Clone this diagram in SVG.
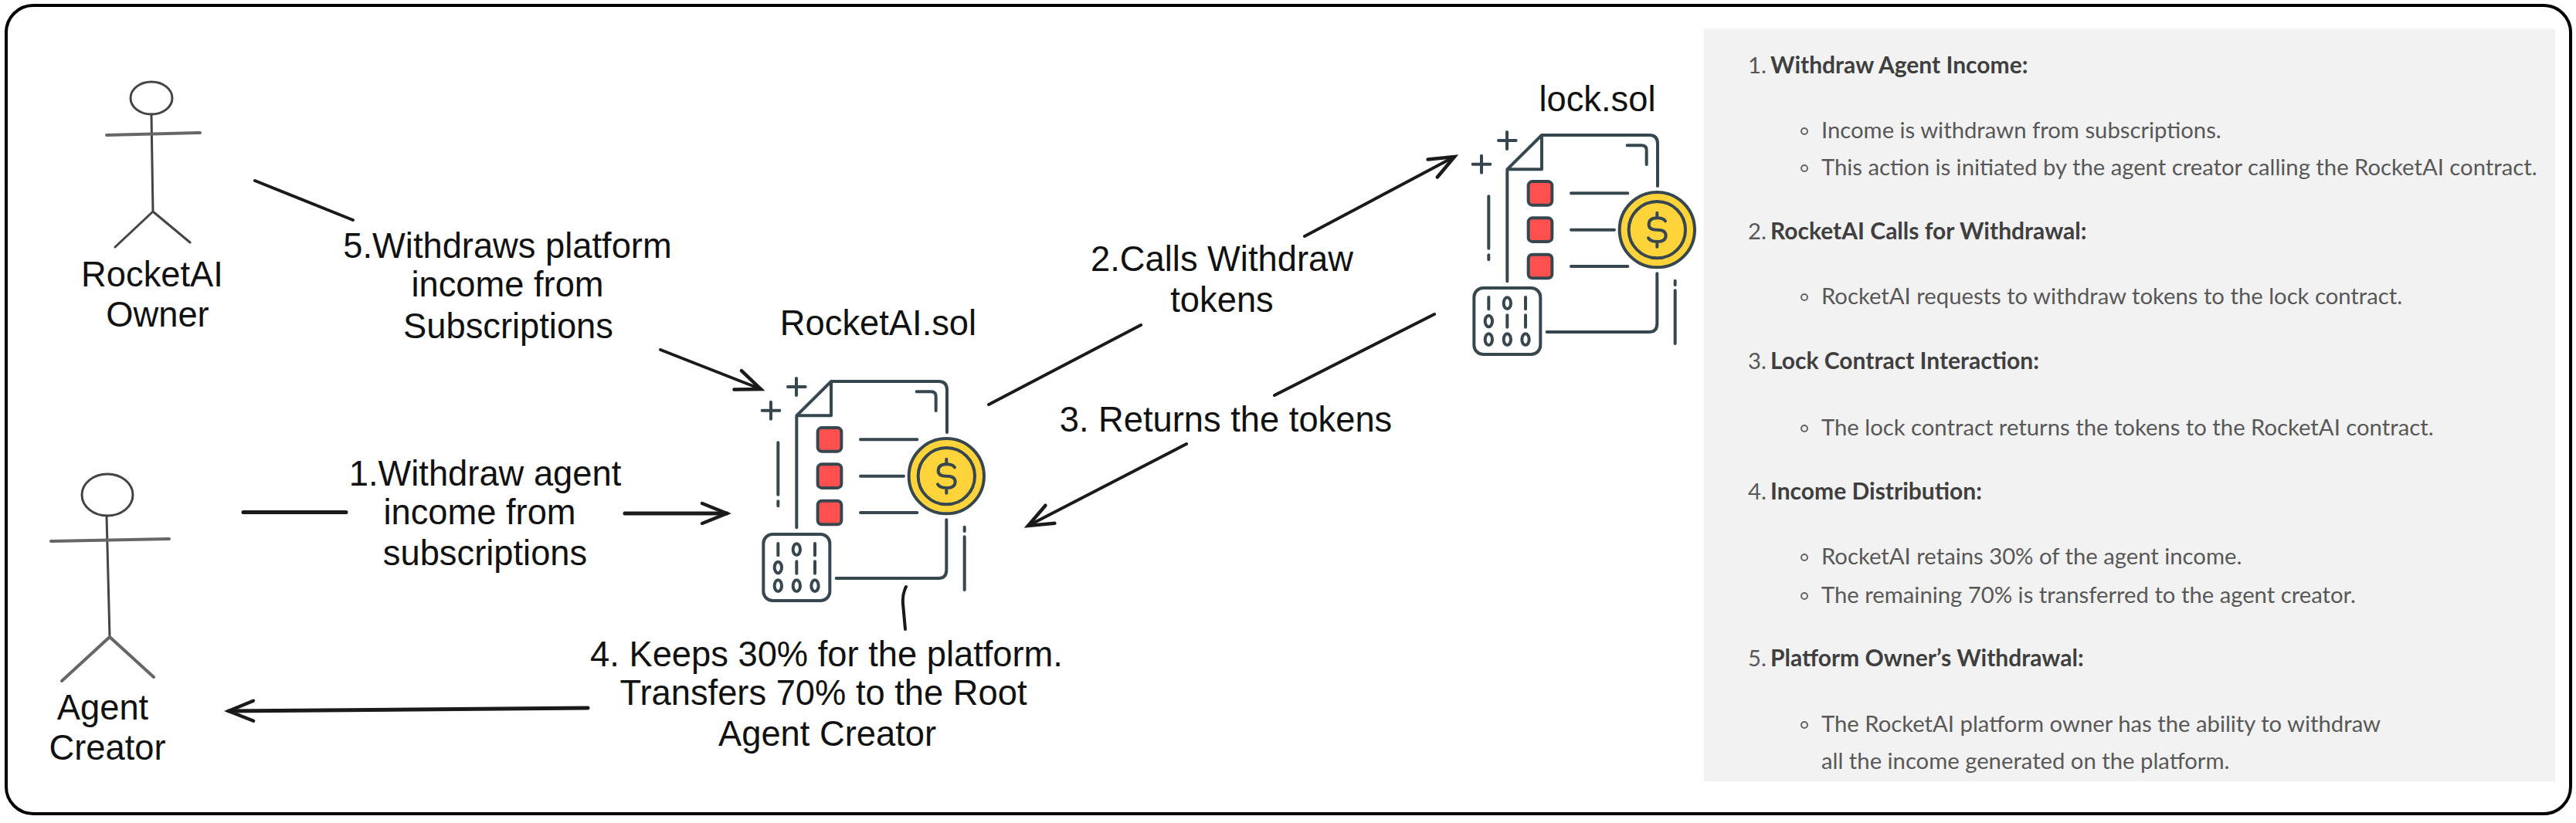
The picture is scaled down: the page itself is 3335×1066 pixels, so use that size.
<svg xmlns="http://www.w3.org/2000/svg" xmlns:xlink="http://www.w3.org/1999/xlink" width="3335" height="1066" viewBox="0 0 3335 1066">
<style>
.lbl{font-family:"Liberation Sans",Arial,sans-serif;font-size:45.3px;fill:#111;text-anchor:middle}
.c{fill:none;stroke:#1a1a1a;stroke-width:4;stroke-linecap:round}
.c2{stroke-width:5}
.a{fill:none;stroke:#444;stroke-width:3;stroke-linecap:round}
.a2{stroke:#666;stroke-width:4}
.i{fill:none;stroke:#37474f;stroke-width:12;stroke-linecap:round;stroke-linejoin:round}
.sq{fill:#ff5050;stroke:#37474f;stroke-width:12}
.h{font-family:Lato,"Open Sans",sans-serif;font-size:30px;font-weight:700;fill:#3f3f3f}
.n{font-family:Lato,"Open Sans",sans-serif;font-size:29.25px;fill:#585858}
.b{fill:none;stroke:#666;stroke-width:2}
</style>
<defs>
<marker id="arrow" markerUnits="userSpaceOnUse" markerWidth="44" markerHeight="36" refX="36" refY="18" orient="auto" viewBox="0 0 44 36">
<path d="M4,5 L36,18 L4,31" fill="none" stroke="#1a1a1a" stroke-width="4.5" stroke-linecap="round"/>
</marker>
<g id="doc">
<path class="i" d="M394,910V475L528,342H945Q978,342 978,375V540M394,475H528V342M860,382H915Q935,382 935,400V456"/>
<rect class="sq" x="476" y="522" width="92" height="92" rx="16"/>
<rect class="sq" x="476" y="664" width="92" height="92" rx="16"/>
<rect class="sq" x="476" y="806" width="92" height="92" rx="16"/>
<path class="i" d="M642,568H862M642,710H810M642,852H862"/>
<circle cx="976" cy="710" r="146" fill="#ffd43b" stroke="#37474f" stroke-width="12"/>
<circle cx="976" cy="710" r="110" fill="none" stroke="#37474f" stroke-width="12"/>
<path class="i" d="M1008,676Q1000,664 976,664Q944,664 944,690Q944,710 976,710Q1010,710 1010,732Q1010,756 976,756Q950,756 942,742M976,644V664M976,756V776"/>
<path class="i" d="M976,880V1075Q976,1107 945,1107H548"/>
<rect class="i" x="265" y="936" width="258" height="258" rx="36"/>
<path class="i" d="M322,972V1018M465,972V1018M394,1042V1088M465,1042V1088"/>
<ellipse class="i" cx="394" cy="995" rx="14" ry="22"/>
<ellipse class="i" cx="322" cy="1065" rx="14" ry="22"/>
<ellipse class="i" cx="322" cy="1136" rx="14" ry="22"/>
<ellipse class="i" cx="394" cy="1136" rx="14" ry="22"/>
<ellipse class="i" cx="465" cy="1136" rx="14" ry="22"/>
<path class="i" d="M360,363H428M393,330V396M260,455H328M294,422V488M322,580V782M322,808V826M1046,908V924M1046,946V1152"/>
</g>
</defs>
<rect id="frame" x="8" y="7" width="3320" height="1047" rx="35" fill="#fff" stroke="#000" stroke-width="4"/>

<g id="connectors">
<path class="c" d="M330,234L457,285"/>
<path class="c" d="M855,453L985,504" marker-end="url(#arrow)"/>
<path class="c c2" d="M315,663.5H448"/>
<path class="c c2" d="M809,665H941" marker-end="url(#arrow)"/>
<path class="c" d="M1280,524L1477,421"/>
<path class="c" d="M1689,306L1883,203" marker-end="url(#arrow)"/>
<path class="c" d="M1857,407L1650,512"/>
<path class="c" d="M1536,575L1331,681" marker-end="url(#arrow)"/>
<path class="c" d="M1173,760Q1168,770 1169,782L1172,815"/>
<path class="c c2" d="M761,917L296,921" marker-end="url(#arrow)"/>
<g id="connector-labels">
<text class="lbl" x="657" y="334">5.Withdraws platform</text>
<text class="lbl" x="657" y="384">income from</text>
<text class="lbl" x="658" y="438">Subscriptions</text>
<text class="lbl" x="628" y="629">1.Withdraw agent</text>
<text class="lbl" x="621" y="679">income from</text>
<text class="lbl" x="628" y="732">subscriptions</text>
<text class="lbl" x="1582" y="351">2.Calls Withdraw</text>
<text class="lbl" x="1582" y="404">tokens</text>
<text class="lbl" x="1587" y="559">3. Returns the tokens</text>
<text class="lbl" x="1070" y="863">4. Keeps 30% for the platform.</text>
<text class="lbl" x="1066" y="913">Transfers 70% to the Root</text>
<text class="lbl" x="1071" y="966">Agent Creator</text>
</g>
</g>

<g id="owner">
<ellipse class="a" cx="196" cy="127" rx="27" ry="21"/>
<path class="a" d="M196,148L198,274M198,274L149,320M198,274L246,314"/>
<path class="a a2" d="M138,175L259,172"/>
<text class="lbl" x="197" y="371">RocketAI</text>
<text class="lbl" x="204" y="423">Owner</text>
</g>

<g id="creator">
<ellipse class="a" cx="139" cy="641" rx="33" ry="27"/>
<path class="a" d="M138,668L142,825"/>
<path class="a a2" d="M66,701L219,698M142,825L80,882M142,825L199,877"/>
<text class="lbl" x="133" y="932">Agent</text>
<text class="lbl" x="139" y="984">Creator</text>
</g>

<g id="rocketai">
<text class="lbl" x="1137" y="434">RocketAI.sol</text>
<use href="#doc" transform="translate(900,380) scale(.33333)"/>
</g>

<g id="lock">
<text class="lbl" x="2068" y="144">lock.sol</text>
<use href="#doc" transform="translate(1820,61) scale(.33333)"/>
</g>

<g id="panel">
<rect x="2206" y="37" width="1102" height="975" fill="#f2f2f2"/>
<text class="n" x="2263" y="95">1.</text><text class="h" x="2292" y="95">Withdraw Agent Income:</text>
<circle class="b" cx="2336" cy="170" r="4"/><text class="n" x="2358" y="179">Income is withdrawn from subscriptions.</text>
<circle class="b" cx="2336" cy="218" r="4"/><text class="n" x="2358" y="227">This action is initiated by the agent creator calling the RocketAI contract.</text>
<text class="n" x="2263" y="310">2.</text><text class="h" x="2292" y="310">RocketAI Calls for Withdrawal:</text>
<circle class="b" cx="2336" cy="385" r="4"/><text class="n" x="2358" y="394">RocketAI requests to withdraw tokens to the lock contract.</text>
<text class="n" x="2263" y="478">3.</text><text class="h" x="2292" y="478">Lock Contract Interaction:</text>
<circle class="b" cx="2336" cy="555" r="4"/><text class="n" x="2358" y="563.5">The lock contract returns the tokens to the RocketAI contract.</text>
<text class="n" x="2263" y="647">4.</text><text class="h" x="2292" y="647">Income Distribution:</text>
<circle class="b" cx="2336" cy="722" r="4"/><text class="n" x="2358" y="731">RocketAI retains 30% of the agent income.</text>
<circle class="b" cx="2336" cy="772" r="4"/><text class="n" x="2358" y="781">The remaining 70% is transferred to the agent creator.</text>
<text class="n" x="2263" y="863">5.</text><text class="h" x="2292" y="863">Platform Owner’s Withdrawal:</text>
<circle class="b" cx="2336" cy="939" r="4"/><text class="n" x="2358" y="948">The RocketAI platform owner has the ability to withdraw</text>
<text class="n" x="2358" y="996">all the income generated on the platform.</text>
</g>
</svg>
